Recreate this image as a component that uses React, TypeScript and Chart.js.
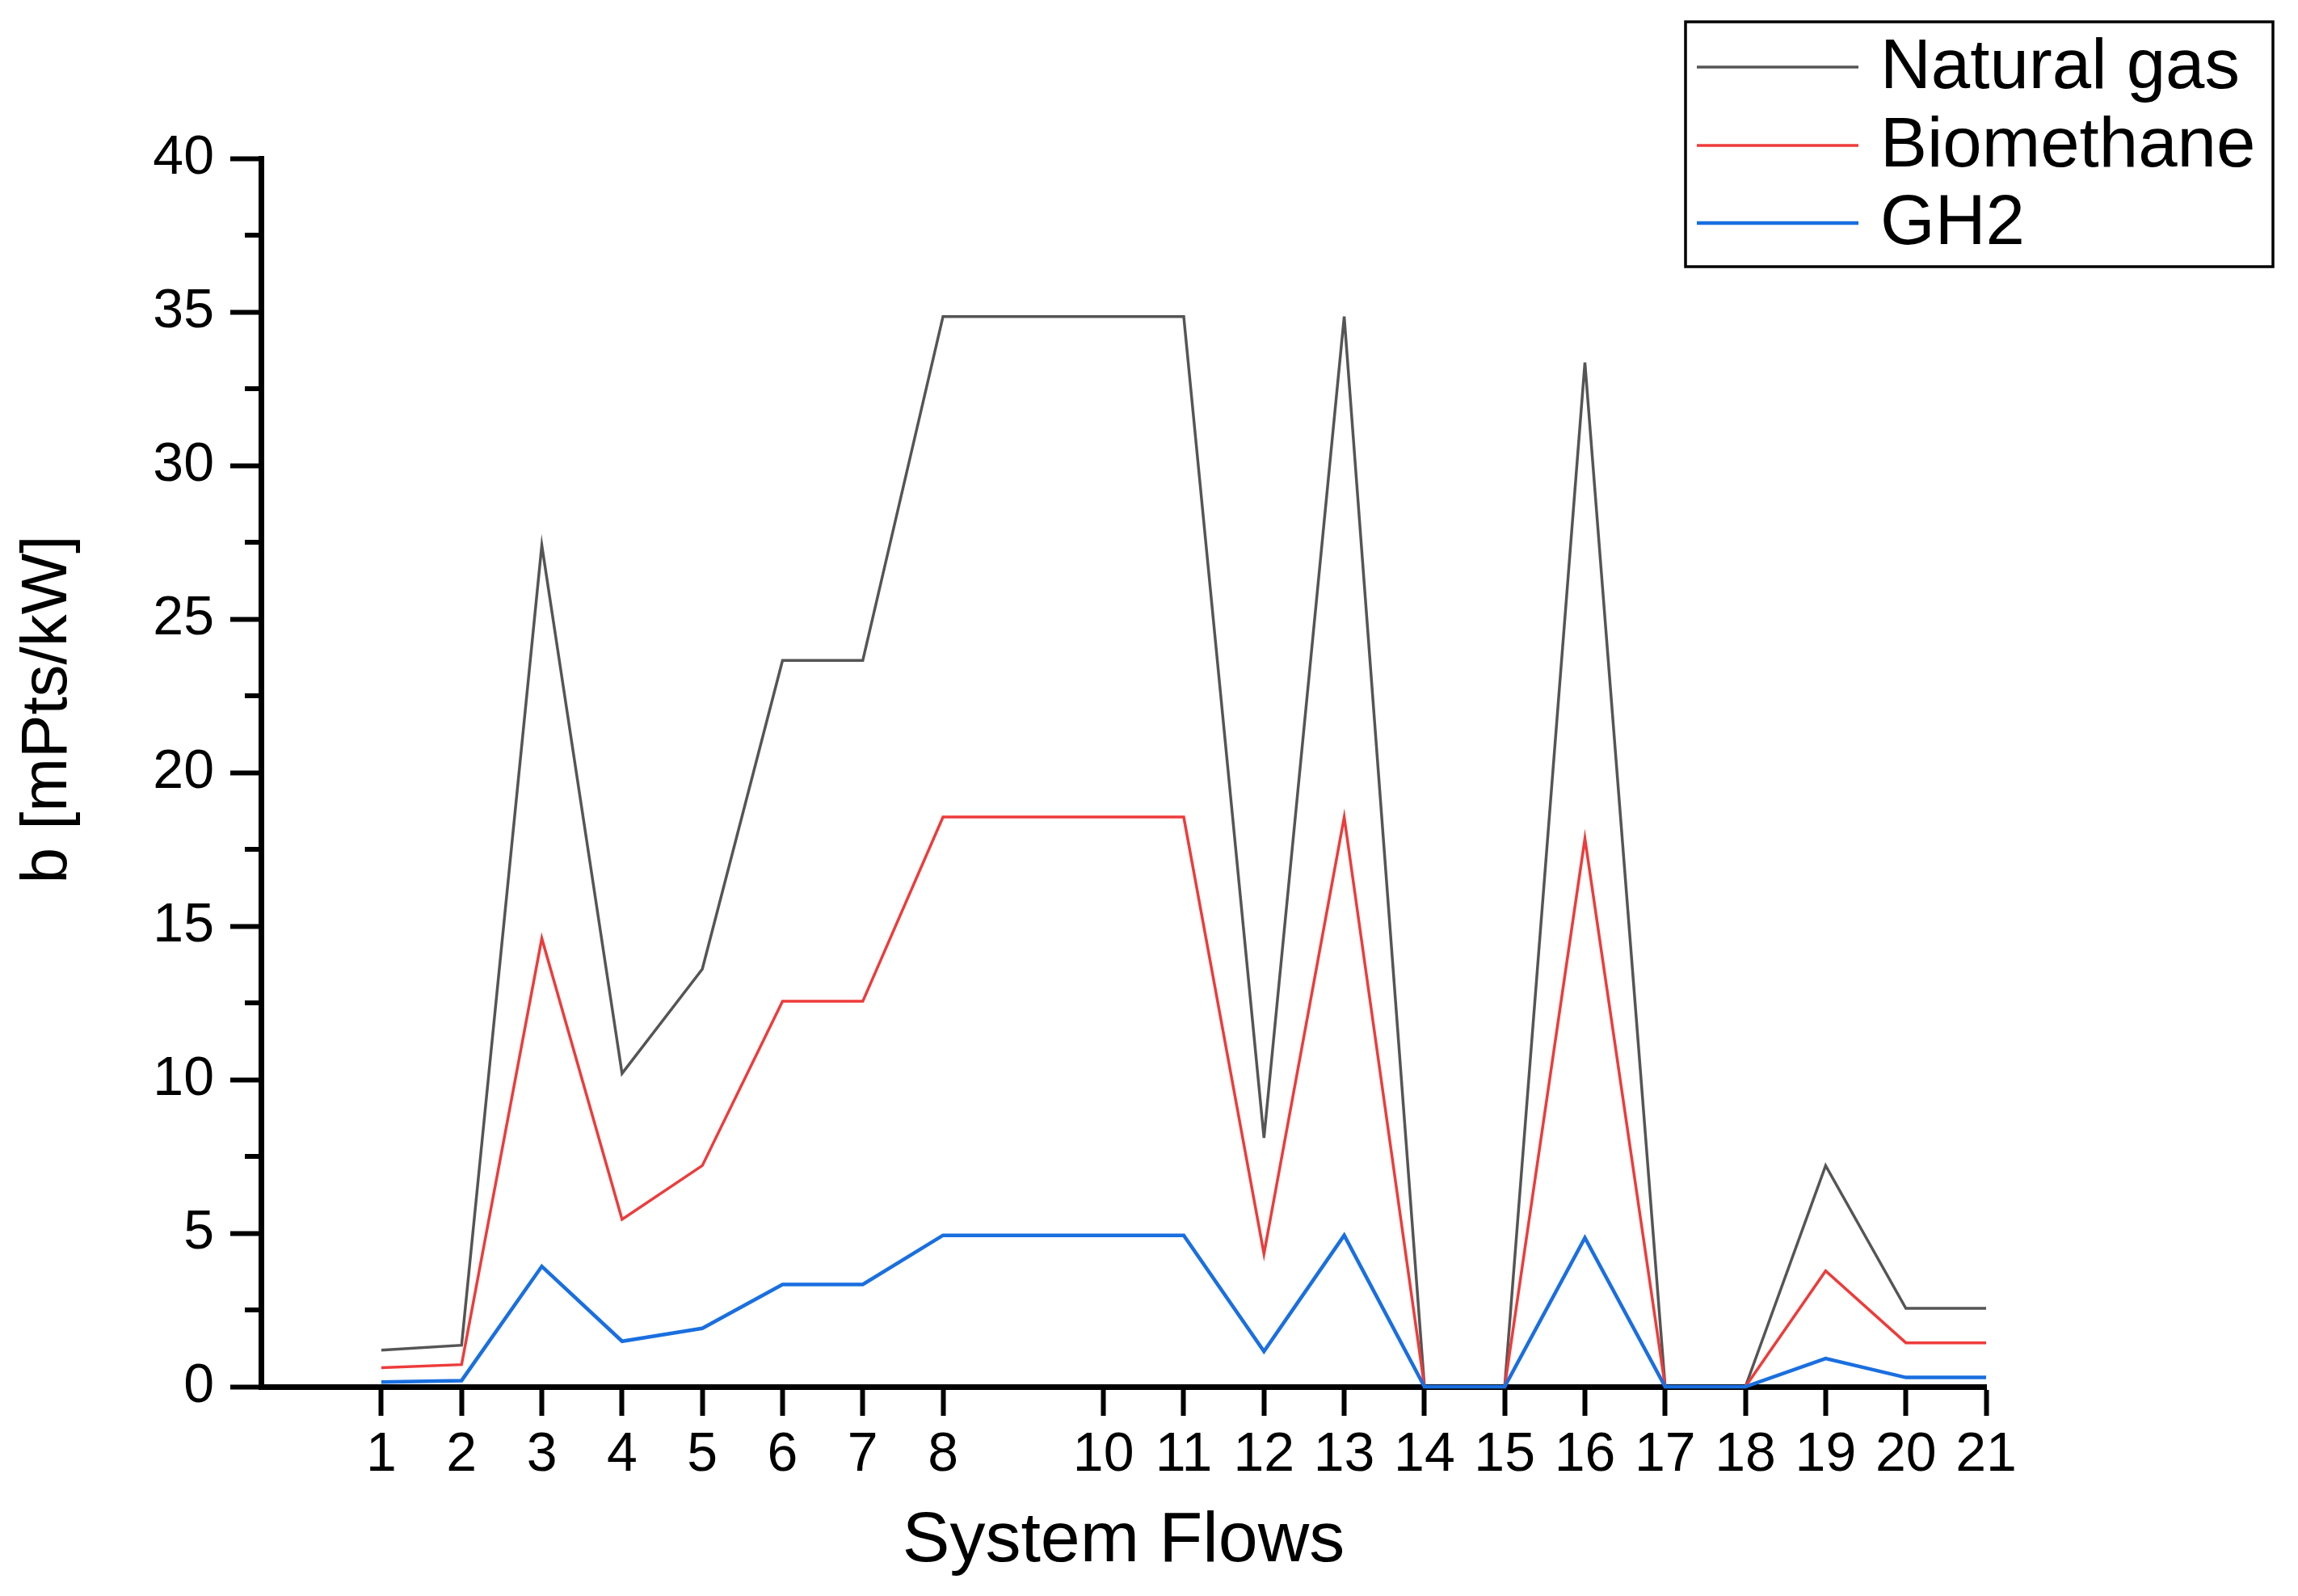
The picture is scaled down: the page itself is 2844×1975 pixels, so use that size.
import React, { useEffect, useRef } from 'react';
import { Chart, registerables } from 'chart.js';

Chart.register(...registerables);

// ---- data ----
const flows = [1, 2, 3, 4, 5, 6, 7, 8, 10, 11, 12, 13, 14, 15, 16, 17, 18, 19, 20, 21];
const naturalGas = [1.19, 1.35, 27.4, 10.2, 13.6, 23.65, 23.65, 34.85, 34.85, 34.85, 8.1, 34.85, 0, 0, 33.35, 0, 0, 7.2, 2.55, 2.55];
const biomethane = [0.62, 0.72, 14.6, 5.45, 7.2, 12.55, 12.55, 18.55, 18.55, 18.55, 4.33, 18.55, 0, 0, 17.85, 0, 0, 3.77, 1.43, 1.43];
const gh2 = [0.15, 0.2, 3.92, 1.48, 1.9, 3.33, 3.33, 4.93, 4.93, 4.93, 1.15, 4.93, 0, 0, 4.85, 0, 0, 0.92, 0.3, 0.3];

const seriesNames = ['Natural gas', 'Biomethane', 'GH2'];
const seriesColors = ['#555555', '#EE3B3B', '#1A6FE0'];
const seriesWidths = [3.5, 3.5, 4.5];
const yMinorTicks = [2.5, 7.5, 12.5, 17.5, 22.5, 27.5, 32.5, 37.5];

const xTitle = 'System Flows';
const yTitle = 'b [mPts/kW]';

const FONT = "'Liberation Sans', Arial, Helvetica, sans-serif";

const W = 2844;
const H = 1975;

const minorTicksPlugin = {
  id: 'minorTicks',
  afterDraw(chart: any) {
    const ctx = chart.ctx;
    const y = chart.scales.y;
    const left = chart.chartArea.left;
    ctx.save();
    ctx.strokeStyle = '#000';
    ctx.lineWidth = 6;
    yMinorTicks.forEach((v) => {
      const py = Math.round(y.getPixelForValue(v));
      ctx.beginPath();
      ctx.moveTo(left - 20, py);
      ctx.lineTo(left, py);
      ctx.stroke();
    });
    ctx.restore();
  },
};

const yTitlePlugin = {
  id: 'yTitleCustom',
  afterDraw(chart: any) {
    const ctx = chart.ctx;
    ctx.save();
    ctx.translate(60, 878);
    ctx.rotate(-Math.PI / 2);
    ctx.fillStyle = '#000';
    ctx.font = `80px ${FONT}`;
    ctx.textAlign = 'center';
    ctx.textBaseline = 'middle';
    ctx.fillText(yTitle, 0, 0);
    ctx.restore();
  },
};

const legendPlugin = {
  id: 'boxLegend',
  afterDraw(chart: any) {
    const ctx = chart.ctx;
    const bx = 2086, by = 27, bw = 727, bh = 303;
    ctx.save();
    ctx.strokeStyle = '#000';
    ctx.lineWidth = 3.5;
    ctx.strokeRect(bx, by, bw, bh);
    const rows = [83, 180, 276];
    chart.data.datasets.forEach((ds: any, i: number) => {
      const ry = rows[i];
      ctx.strokeStyle = ds.borderColor;
      ctx.lineWidth = ds.borderWidth;
      ctx.beginPath();
      ctx.moveTo(2100, ry);
      ctx.lineTo(2300, ry);
      ctx.stroke();
      ctx.fillStyle = '#000';
      ctx.font = `87px ${FONT}`;
      ctx.textAlign = 'left';
      ctx.textBaseline = 'middle';
      ctx.fillText(ds.label, 2327, ry + 2);
    });
    ctx.restore();
  },
};

export default function App() {
  const ref = useRef<HTMLCanvasElement | null>(null);

  useEffect(() => {
    if (!ref.current) return;
    const series = [naturalGas, biomethane, gh2];
    const chart = new Chart(ref.current, {
      type: 'line',
      data: {
        datasets: series.map((s, i) => ({
          label: seriesNames[i],
          data: flows.map((f, k) => ({ x: f, y: s[k] })),
          borderColor: seriesColors[i],
          backgroundColor: seriesColors[i],
          borderWidth: seriesWidths[i],
          pointRadius: 0,
          tension: 0,
          fill: false,
          clip: false as any,
          order: 3 - i,
        })),
      },
      options: {
        animation: false,
        responsive: false,
        maintainAspectRatio: false,
        devicePixelRatio: 1,
        layout: { padding: { top: 196, right: 386, left: 0, bottom: 0 } },
        plugins: {
          legend: { display: false },
          tooltip: { enabled: false },
          title: { display: false },
        },
        scales: {
          x: {
            type: 'linear',
            min: -0.5,
            max: 21,
            afterBuildTicks: (scale: any) => {
              scale.ticks = flows.map((v) => ({ value: v }));
            },
            afterFit: (scale: any) => {
              scale.height = 259;
            },
            grid: {
              display: true,
              drawOnChartArea: false,
              drawTicks: true,
              tickLength: 36,
              tickWidth: 6,
              tickColor: '#000',
            },
            border: { display: true, color: '#000', width: 7 },
            ticks: {
              autoSkip: false,
              maxRotation: 0,
              minRotation: 0,
              padding: 8,
              color: '#000',
              font: { family: FONT, size: 68 },
              callback: (v: any) => String(v),
            },
            title: {
              display: true,
              text: xTitle,
              color: '#000',
              font: { family: FONT, size: 88 },
              padding: { top: 0, bottom: 14 },
            },
          },
          y: {
            type: 'linear',
            min: 0,
            max: 40,
            afterFit: (scale: any) => {
              scale.width = 323;
            },
            grid: {
              display: true,
              drawOnChartArea: false,
              drawTicks: true,
              tickLength: 38,
              tickWidth: 6,
              tickColor: '#000',
            },
            border: { display: true, color: '#000', width: 7 },
            ticks: {
              stepSize: 5,
              autoSkip: false,
              padding: 20,
              color: '#000',
              font: { family: FONT, size: 68 },
            },
            title: { display: false },
          },
        },
      },
      plugins: [minorTicksPlugin, yTitlePlugin, legendPlugin],
    });
    return () => chart.destroy();
  }, []);

  return (
    <div style={{ position: 'fixed', left: 0, top: 0, width: W, height: H, background: '#fff' }}>
      <canvas ref={ref} width={W} height={H} style={{ width: W, height: H, display: 'block' }} />
    </div>
  );
}
